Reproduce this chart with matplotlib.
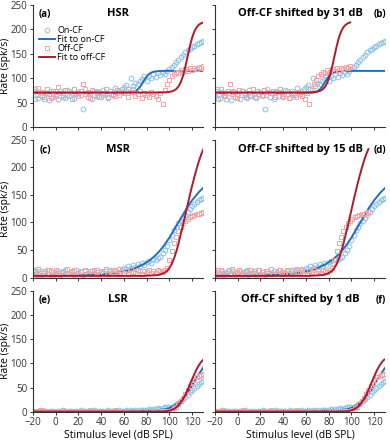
import numpy as np
from matplotlib import pyplot as plt

plt.rcParams["font.family"] = ["Open Sans", "DejaVu Sans"]

# stimulus levels of the recorded points (dB SPL) and of the sampled fits
levels = np.arange(-20, 131, 2)
fit_levels = np.array([-20, 0, 20, 40] + list(range(50, 131, 2)))

titles = ["HSR", "MSR", "LSR"]
shifts = [31, 15, 1]
letters = [("(a)", "(b)"), ("(c)", "(d)"), ("(e)", "(f)")]

hsr_on = [
    66, 78, 60, 72, 64, 58, 70, 55, 74, 62,
    68, 57, 73, 65, 60, 76, 63, 70, 59, 67,
    72, 66, 38, 78, 61, 69, 58, 74, 64, 71,
    62, 77, 68, 60, 73, 66, 80, 70, 75, 78,
    82, 86, 79, 100, 84, 90, 88, 95, 99, 104,
    95, 104, 100, 108, 103, 110, 106, 112, 109, 114,
    118, 122, 128, 133, 138, 143, 148, 153, 157, 160,
    163, 166, 169, 172, 174, 177,
]
hsr_off = [
    74, 58, 80, 65, 72, 62, 78, 68, 60, 75,
    64, 82, 70, 61, 76, 66, 73, 58, 79, 69,
    63, 74, 88, 67, 71, 60, 77, 65, 73, 62,
    70, 66, 79, 61, 74, 68, 63, 77, 65, 72,
    69, 75, 62, 71, 78, 64, 67, 73, 60, 70,
    66, 62, 72, 68, 64, 58, 70, 48, 76, 88,
    96, 104, 108, 112, 110, 116, 113, 118, 115, 120,
    117, 121, 119, 123, 120, 124,
]
hsr_fit_on = [
    70, 70, 70, 70,
    70, 70, 70, 70, 70.1, 70.1, 70.2, 70.5, 70.9, 71.9,
    73.6, 76.7, 81.7, 88.6, 96.4, 103.3, 108.3, 111.4, 113.1, 114.1,
    114.5, 114.8, 114.9, 115, 115, 115, 115, 115, 115, 115,
    115, 115, 115, 115, 115, 115, 115, 115, 115, 115, 115,
]
hsr_fit_off = [
    71, 71, 71, 71,
    71, 71, 71, 71, 71, 71, 71, 71, 71, 71,
    71, 71, 71, 71, 71, 71, 71, 71, 71, 71,
    71.1, 71.1, 71.2, 71.4, 71.7, 72.2, 73.1, 74.9, 77.9, 83.1,
    91.6, 104.6, 122.4, 143.5, 164.6, 182.4, 195.5, 203.9, 209.1, 212.1, 213.9,
]

msr_on = [
    10, 14, 6, 12, 5, 9, 13, 7, 11, 4,
    8, 12, 5, 10, 14, 6, 9, 11, 4, 13,
    7, 10, 5, 12, 8, 6, 11, 9, 13, 7,
    10, 8, 12, 9, 14, 11, 13, 10, 16, 14,
    18, 15, 20, 17, 22, 19, 24, 21, 26, 23,
    28, 30, 27, 33, 31, 36, 38, 44, 50, 58,
    68, 78, 86, 92, 98, 103, 108, 114, 119, 125,
    130, 134, 137, 140, 143, 145,
]
msr_off = [
    12, 6, 15, 9, 4, 11, 7, 13, 5, 10,
    14, 8, 5, 12, 9, 15, 6, 10, 13, 7,
    9, 12, 5, 14, 8, 11, 6, 13, 10, 7,
    12, 9, 15, 6, 11, 8, 14, 10, 7, 13,
    9, 12, 6, 15, 10, 8, 13, 11, 7, 12,
    10, 14, 9, 12, 8, 13, 11, 10, 14, 18,
    32, 48, 62, 74, 84, 92, 98, 102, 106, 109,
    111, 113, 115, 116, 117, 118,
]
msr_fit_on = [
    2, 2.5, 3.5, 5.5,
    7.5, 8, 8.6, 9.3, 10, 11, 12, 13, 14.2, 15.5,
    17, 18.8, 20.7, 22.8, 25, 27.5, 30.3, 33.4, 36.8, 40.6,
    44.8, 49.5, 54.6, 60, 66, 72, 79, 86, 93, 100,
    107, 114, 121, 128, 134, 140, 145, 150, 155, 159, 163,
]
msr_fit_off = [
    3, 3, 3, 3,
    3, 3, 3, 3, 3, 3, 3, 3, 3, 3,
    3, 3, 3, 3, 3, 3.3, 3.5, 3.7, 3.9, 4.2,
    4.5, 5.5, 7, 9, 12, 17, 24, 34, 46, 61,
    78, 95, 113, 131, 149, 166, 182, 197, 211, 223, 233,
]

lsr_on = [
    2, 0, 1, 3, 0, 2, 1, 0, 2, 1,
    0, 2, 1, 3, 1, 0, 2, 1, 0, 2,
    1, 3, 0, 1, 2, 0, 1, 3, 1, 2,
    1, 2, 0, 3, 1, 2, 2, 1, 3, 2,
    2, 3, 1, 3, 2, 4, 2, 3, 4, 3,
    4, 5, 4, 6, 5, 7, 6, 8, 9, 10,
    9, 11, 13, 16, 19, 23, 27, 31, 35, 40,
    45, 50, 54, 58, 61, 64,
]
lsr_off = [
    1, 2, 0, 1, 3, 0, 1, 2, 0, 1,
    2, 0, 1, 3, 1, 0, 2, 1, 0, 1,
    2, 1, 0, 2, 1, 3, 0, 1, 2, 0,
    1, 2, 1, 0, 2, 1, 3, 1, 0, 2,
    1, 0, 2, 1, 1, 2, 0, 1, 2, 1,
    1, 2, 1, 0, 2, 1, 1, 2, 1, 2,
    2, 4, 7, 11, 16, 22, 29, 37, 45, 53,
    60, 66, 71, 74, 77, 79,
]
lsr_fit_on = [
    0.3, 0.3, 0.3, 0.4,
    0.5, 0.5, 0.6, 0.6, 0.7, 0.8, 0.9, 1.0, 1.1, 1.2,
    1.4, 1.5, 1.7, 1.9, 2.1, 2.4, 2.7, 3.0, 3.3, 3.7,
    4.0, 4.3, 4.6, 5, 6.5, 8, 10, 12.5, 15.5, 19,
    23, 28, 33.5, 40, 47, 55, 63, 71, 78, 85, 92,
]
lsr_fit_off = [
    0.5, 0.5, 0.5, 0.5,
    0.5, 0.5, 0.5, 0.5, 0.5, 0.5, 0.5, 0.5, 0.5, 0.5,
    0.5, 0.5, 0.5, 0.5, 0.5, 0.5, 0.5, 0.5, 0.5, 0.5,
    0.5, 0.5, 0.5, 1, 1.5, 2.5, 4, 6, 9, 13,
    19, 26, 35, 45, 56, 67, 78, 88, 96, 103, 108,
]

rows = [
    (hsr_on, hsr_off, hsr_fit_on, hsr_fit_off),
    (msr_on, msr_off, msr_fit_on, msr_fit_off),
    (lsr_on, lsr_off, lsr_fit_on, lsr_fit_off),
]

blue = "#1f6fbf"
red = "#b2182b"
light_blue = "#8cc0e8"
light_red = "#f2a3a3"

# axes boxes in figure fractions: [left, bottom, width, height]
row_boxes = [(0.7107, 0.2786), (0.3693, 0.3132), (0.0640, 0.2753)]
col_lefts = [0.0846, 0.5513]
width = 0.437


def style_axes(ax, left, bottom):
    ax.set_xlim(-20, 130)
    ax.set_ylim(0, 250)
    ax.set_xticks(range(-20, 121, 20))
    ax.set_yticks(range(0, 251, 50))
    ax.spines["top"].set_visible(False)
    ax.spines["right"].set_visible(False)
    for s in ("left", "bottom"):
        ax.spines[s].set_color("#333333")
        ax.spines[s].set_linewidth(0.8)
    ax.tick_params(direction="out", length=2.5, width=0.7, colors="#333333",
                   labelsize=7, pad=1.5)
    if not left:
        ax.tick_params(labelleft=False)
    else:
        ax.set_ylabel("Rate (spk/s)", fontsize=7.5)
        ax.yaxis.set_label_coords(-0.128, 0.5)
    if not bottom:
        ax.tick_params(labelbottom=False)
    else:
        ax.set_xlabel("Stimulus level (dB SPL)", fontsize=7.5, labelpad=0.5)


def plot_panel(ax, on, off, fit_on, fit_off, shift):
    ax.plot(levels, on, "o", ms=3.4, mfc="none", mec=light_blue, mew=0.7,
            label="On-CF")
    ax.plot(fit_levels, fit_on, color=blue, lw=1.4, label="Fit to on-CF")
    ax.plot(levels - shift, off, "s", ms=2.6, mfc="none", mec=light_red,
            mew=0.7, label="Off-CF")
    ax.plot(fit_levels - shift, fit_off, color=red, lw=1.4,
            label="Fit to off-CF")


fig = plt.figure(figsize=(3.9, 4.4), dpi=100)

for r in range(3):
    on, off, fit_on, fit_off = rows[r]
    bottom, height = row_boxes[r]
    for c in range(2):
        ax = fig.add_axes([col_lefts[c], bottom, width, height])
        shift = 0 if c == 0 else shifts[r]
        plot_panel(ax, on, off, fit_on, fit_off, shift)
        style_axes(ax, c == 0, r == 2)
        if c == 0:
            ax.text(0.5, 0.93, titles[r], transform=ax.transAxes,
                    ha="center", va="center", fontsize=8, fontweight="bold")
            ax.text(0.07, 0.92, letters[r][0], transform=ax.transAxes,
                    ha="center", va="center", fontsize=7, fontweight="bold")
        else:
            ax.text(0.5, 0.93, f"Off-CF shifted by {shift} dB",
                    transform=ax.transAxes, ha="center", va="center",
                    fontsize=8, fontweight="bold")
            ax.text(0.97, 0.92, letters[r][1], transform=ax.transAxes,
                    ha="center", va="center", fontsize=7, fontweight="bold")
        if r == 0 and c == 0:
            ax.legend(loc="upper left", bbox_to_anchor=(0.0, 0.88),
                      frameon=False, fontsize=6.5, handlelength=1.7,
                      handletextpad=0.3, labelspacing=0.0, borderpad=0.2)

fig.savefig("out.png", dpi=100)
